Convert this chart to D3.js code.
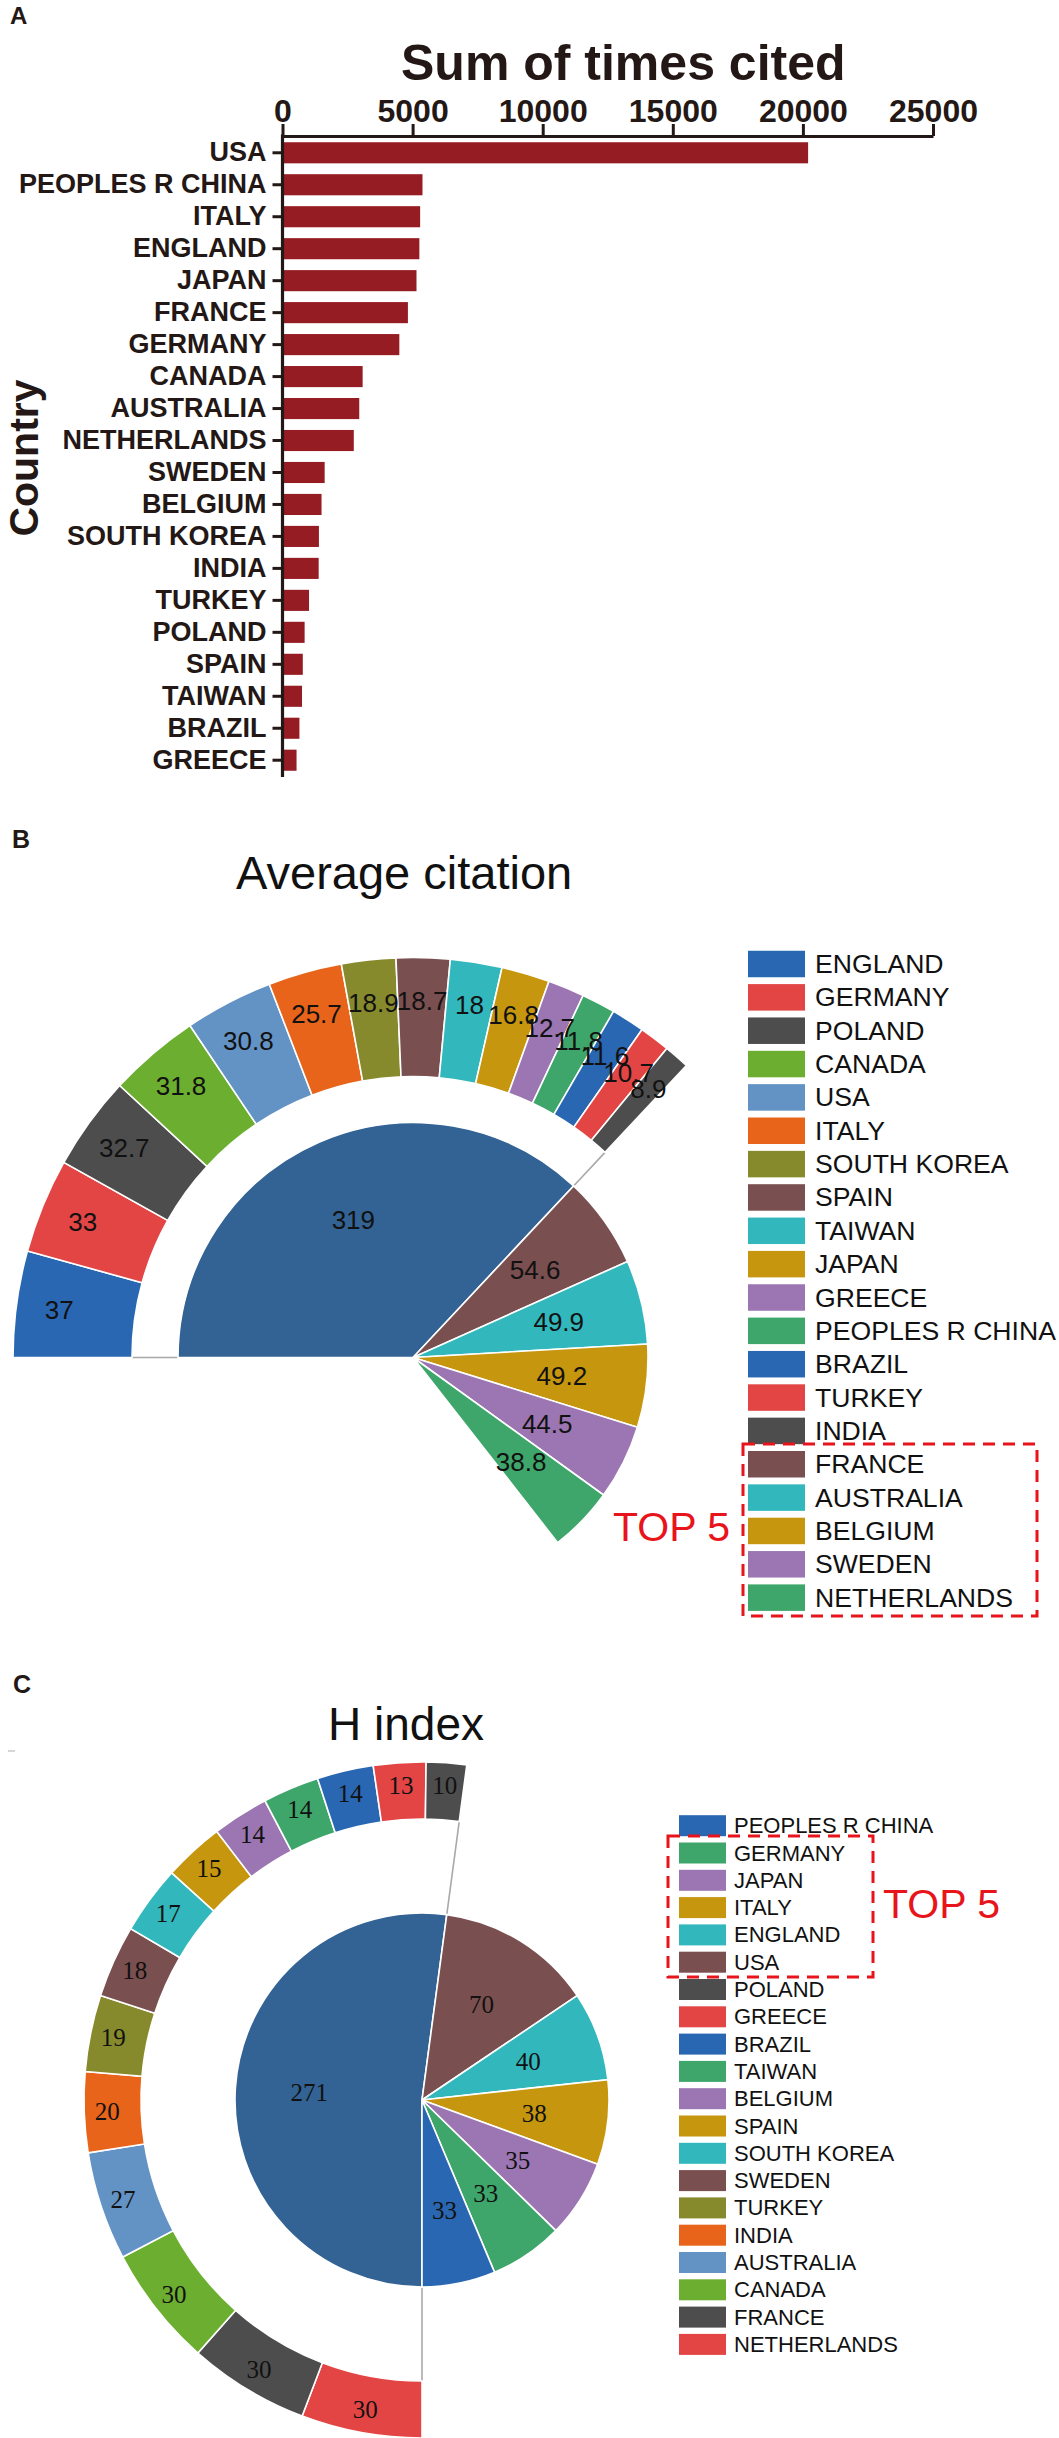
<!DOCTYPE html>
<html><head><meta charset="utf-8">
<script src="https://cdn.jsdelivr.net/npm/d3@7"></script>
<style>body{margin:0;background:#fff;} svg{display:block;}</style>
</head><body>
<svg id="chart" width="1059" height="2438"></svg>
<script>
// ---------- Panel A data ----------
const countriesA = ["USA","PEOPLES R CHINA","ITALY","ENGLAND","JAPAN","FRANCE","GERMANY","CANADA","AUSTRALIA","NETHERLANDS","SWEDEN","BELGIUM","SOUTH KOREA","INDIA","TURKEY","POLAND","SPAIN","TAIWAN","BRAZIL","GREECE"];
const timesCited = [20200,5380,5290,5260,5150,4820,4490,3080,2950,2740,1620,1500,1400,1390,1020,850,780,750,650,540];
const citedTicks = [0,5000,10000,15000,20000,25000];

// ---------- Panel B data (Average citation) ----------
const avgRingCountries = ["ENGLAND","GERMANY","POLAND","CANADA","USA","ITALY","SOUTH KOREA","SPAIN","TAIWAN","JAPAN","GREECE","PEOPLES R CHINA","BRAZIL","TURKEY","INDIA"];
const avgRingValues = [37,33,32.7,31.8,30.8,25.7,18.9,18.7,18,16.8,12.7,11.8,11.6,10.7,8.9];
const avgTopCountries = ["FRANCE","AUSTRALIA","BELGIUM","SWEDEN","NETHERLANDS"];
const avgTopValues = [54.6,49.9,49.2,44.5,38.8];
const avgOthersValue = 319;
const avgLegend = ["ENGLAND","GERMANY","POLAND","CANADA","USA","ITALY","SOUTH KOREA","SPAIN","TAIWAN","JAPAN","GREECE","PEOPLES R CHINA","BRAZIL","TURKEY","INDIA","FRANCE","AUSTRALIA","BELGIUM","SWEDEN","NETHERLANDS"];

// ---------- Panel C data (H index) ----------
const hRingCountries = ["NETHERLANDS","FRANCE","CANADA","AUSTRALIA","INDIA","TURKEY","SWEDEN","SOUTH KOREA","SPAIN","BELGIUM","TAIWAN","BRAZIL","GREECE","POLAND"];
const hRingValues = [30,30,30,27,20,19,18,17,15,14,14,14,13,10];
const hTopCountries = ["USA","ENGLAND","ITALY","JAPAN","GERMANY","PEOPLES R CHINA"];
const hTopValues = [70,40,38,35,33,33];
const hOthersValue = 271;
const hLegend = ["PEOPLES R CHINA","GERMANY","JAPAN","ITALY","ENGLAND","USA","POLAND","GREECE","BRAZIL","TAIWAN","BELGIUM","SPAIN","SOUTH KOREA","SWEDEN","TURKEY","INDIA","AUSTRALIA","CANADA","FRANCE","NETHERLANDS"];

// ---------- styles ----------
const C = {blue:"#2a67b2", red:"#e34545", gray:"#4d4d4d", lgreen:"#6cae2f", lblue:"#6392c4", orange:"#e8641a",
  olive:"#878a2c", brown:"#7a4f50", teal:"#32b8bc", gold:"#c6960f", purple:"#9b76b2", green:"#3ea66a", others:"#336394"};
const avgColors = {ENGLAND:C.blue, GERMANY:C.red, POLAND:C.gray, CANADA:C.lgreen, USA:C.lblue, ITALY:C.orange,
  "SOUTH KOREA":C.olive, SPAIN:C.brown, TAIWAN:C.teal, JAPAN:C.gold, GREECE:C.purple, "PEOPLES R CHINA":C.green,
  BRAZIL:C.blue, TURKEY:C.red, INDIA:C.gray, FRANCE:C.brown, AUSTRALIA:C.teal, BELGIUM:C.gold, SWEDEN:C.purple, NETHERLANDS:C.green};
const hColors = {"PEOPLES R CHINA":C.blue, GERMANY:C.green, JAPAN:C.purple, ITALY:C.gold, ENGLAND:C.teal, USA:C.brown,
  POLAND:C.gray, GREECE:C.red, BRAZIL:C.blue, TAIWAN:C.green, BELGIUM:C.purple, SPAIN:C.gold, "SOUTH KOREA":C.teal,
  SWEDEN:C.brown, TURKEY:C.olive, INDIA:C.orange, AUSTRALIA:C.lblue, CANADA:C.lgreen, FRANCE:C.gray, NETHERLANDS:C.red};
const SANS = "'Liberation Sans', Arial, Helvetica, sans-serif";
const SERIF = "'Liberation Serif', 'Times New Roman', serif";
const INK = "#231815";

const svg = d3.select("#chart");

// ================= Panel A =================
const gA = svg.append("g");
gA.append("text").attr("x",10).attr("y",24).text("A")
  .attr("font-family",SANS).attr("font-weight","bold").attr("font-size",24).attr("fill",INK);
gA.append("text").attr("x",401).attr("y",80).text("Sum of times cited")
  .attr("font-family",SANS).attr("font-weight","bold").attr("font-size",50).attr("fill",INK);

const xA = d3.scaleLinear().domain([0,25000]).range([282.5,933]);
const yA = d3.scaleBand().domain(countriesA).range([136,777]).paddingInner(0.34).paddingOuter(0.195);

gA.append("g").selectAll("rect").data(countriesA).join("rect")
  .attr("x", xA(0)).attr("y", d=>yA(d))
  .attr("width", (d,i)=>xA(timesCited[i])-xA(0)).attr("height", yA.bandwidth())
  .attr("fill","#961c24");

const axT = gA.append("g").attr("transform","translate(0,136)")
  .call(d3.axisTop(xA).tickValues(citedTicks).tickSize(12).tickSizeOuter(0).tickPadding(2).tickFormat(d3.format("d")));
const axL = gA.append("g").attr("transform",`translate(${xA(0)},0)`)
  .call(d3.axisLeft(yA).tickSize(10).tickSizeOuter(0).tickPadding(6));
[axT,axL].forEach(a=>{
  a.select(".domain").attr("stroke",INK).attr("stroke-width",3.2);
  a.selectAll(".tick line").attr("stroke",INK).attr("stroke-width",3);
  a.selectAll(".tick text").attr("fill",INK).attr("font-family",SANS).attr("font-weight","bold");
});
axT.selectAll(".tick text").attr("font-size",32);
axL.selectAll(".tick text").attr("font-size",27);
axL.select(".domain").attr("d","M0,134.5V777");

gA.append("text").attr("transform","translate(38,458) rotate(-90)").attr("text-anchor","middle")
  .text("Country").attr("font-family",SANS).attr("font-weight","bold").attr("font-size",41).attr("fill",INK);

// ================= helper for pie + outer ring =================
function drawComposite(opt){
  const g = svg.append("g").attr("transform",`translate(${opt.cx},${opt.cy})`);
  const innerData = [{name:"__others", v:opt.othersValue}].concat(opt.topCountries.map((n,i)=>({name:n, v:opt.topValues[i]})));
  const innerArcs = d3.pie().sort(null).value(d=>d.v)
    .startAngle(opt.start).endAngle(opt.start + opt.span)(innerData);
  const ringData = opt.ringCountries.map((n,i)=>({name:n, v:opt.ringValues[i]}));
  const ringArcs = d3.pie().sort(null).value(d=>d.v)
    .startAngle(innerArcs[0].startAngle).endAngle(innerArcs[0].endAngle)(ringData);

  const arcIn = d3.arc().innerRadius(0).outerRadius(opt.R);
  const arcRing = d3.arc().innerRadius(opt.r1).outerRadius(opt.r2);

  // connector lines
  [innerArcs[0].startAngle, innerArcs[0].endAngle].forEach(a=>{
    g.append("line")
      .attr("x1", Math.sin(a)*opt.R).attr("y1", -Math.cos(a)*opt.R)
      .attr("x2", Math.sin(a)*opt.r1).attr("y2", -Math.cos(a)*opt.r1)
      .attr("stroke","#a9a9a9").attr("stroke-width",1.6);
  });

  g.append("g").selectAll("path").data(ringArcs).join("path")
    .attr("d", arcRing).attr("fill", d=>opt.colors[d.data.name])
    .attr("stroke","#fff").attr("stroke-width",1.6);
  g.append("g").selectAll("path").data(innerArcs).join("path")
    .attr("d", arcIn).attr("fill", d=>d.data.name==="__others"?C.others:opt.colors[d.data.name])
    .attr("stroke","#fff").attr("stroke-width",1.6);

  const lblIn = d3.arc().innerRadius(opt.lblInR).outerRadius(opt.lblInR);
  const lblRing = d3.arc().innerRadius(opt.lblRingR).outerRadius(opt.lblRingR);
  g.append("g").selectAll("text").data(innerArcs).join("text")
    .attr("transform", d=>`translate(${lblIn.centroid(d)})`)
    .attr("text-anchor","middle").attr("dominant-baseline","central")
    .attr("font-family",opt.font).attr("font-size",opt.fs).attr("fill","#111")
    .text(d=>String(d.data.v));
  g.append("g").selectAll("text").data(ringArcs).join("text")
    .attr("transform", d=>`translate(${lblRing.centroid(d)})`)
    .attr("text-anchor","middle").attr("dominant-baseline","central")
    .attr("font-family",opt.font).attr("font-size",opt.fs).attr("fill","#111")
    .text(d=>String(d.data.v));
}

function drawLegend(opt){
  const g = svg.append("g");
  opt.items.forEach((n,i)=>{
    const cy = opt.y0 + i*opt.step;
    g.append("rect").attr("x",opt.x).attr("y",cy-opt.h/2).attr("width",opt.w).attr("height",opt.h)
      .attr("fill",opt.colors[n]);
    g.append("text").attr("x",opt.tx).attr("y",cy).attr("dominant-baseline","central")
      .attr("font-family",SANS).attr("font-size",opt.fs).attr("fill","#111").text(n);
  });
  g.append("rect").attr("x",opt.box[0]).attr("y",opt.box[1]).attr("width",opt.box[2]).attr("height",opt.box[3])
    .attr("fill","none").attr("stroke","#e8141b").attr("stroke-width",3).attr("stroke-dasharray","12,8");
  g.append("text").attr("x",opt.top5[0]).attr("y",opt.top5[1]).text("TOP 5")
    .attr("font-family",SANS).attr("font-size",41).attr("fill","#e8141b");
}

// ================= Panel B =================
svg.append("text").attr("x",12).attr("y",848).text("B")
  .attr("font-family",SANS).attr("font-weight","bold").attr("font-size",25).attr("fill",INK);
svg.append("text").attr("x",236).attr("y",889).text("Average citation")
  .attr("font-family",SANS).attr("font-size",47).attr("fill","#111");

drawComposite({cx:413, cy:1357.5, R:235, r1:281, r2:400,
  start:-Math.PI/2, span:232*Math.PI/180,
  othersValue:avgOthersValue, topCountries:avgTopCountries, topValues:avgTopValues,
  ringCountries:avgRingCountries, ringValues:avgRingValues, colors:avgColors,
  lblInR:150, lblRingR:357, font:SANS, fs:26});

drawLegend({items:avgLegend, colors:avgColors, x:748, w:57, h:26.5, tx:815, y0:964, step:33.35, fs:26.6,
  box:[743,1444,294,172], top5:[613,1541]});

// ================= Panel C =================
svg.append("text").attr("x",13).attr("y",1693).text("C")
  .attr("font-family",SANS).attr("font-weight","bold").attr("font-size",25).attr("fill",INK);
svg.append("line").attr("x1",8).attr("x2",15).attr("y1",1751).attr("y2",1751).attr("stroke","#c8c8c8").attr("stroke-width",1.5);
svg.append("text").attr("x",328).attr("y",1740).text("H index")
  .attr("font-family",SANS).attr("font-size",46).attr("fill","#111");

drawComposite({cx:422, cy:2100, R:187, r1:281, r2:338,
  start:Math.PI, span:2*Math.PI,
  othersValue:hOthersValue, topCountries:hTopCountries, topValues:hTopValues,
  ringCountries:hRingCountries, ringValues:hRingValues, colors:hColors,
  lblInR:113, lblRingR:315, font:SERIF, fs:25});

drawLegend({items:hLegend, colors:hColors, x:679, w:47, h:21, tx:734, y0:1825.7, step:27.3, fs:22,
  box:[668,1836,205,141], top5:[883,1918]});
</script>
</body></html>
